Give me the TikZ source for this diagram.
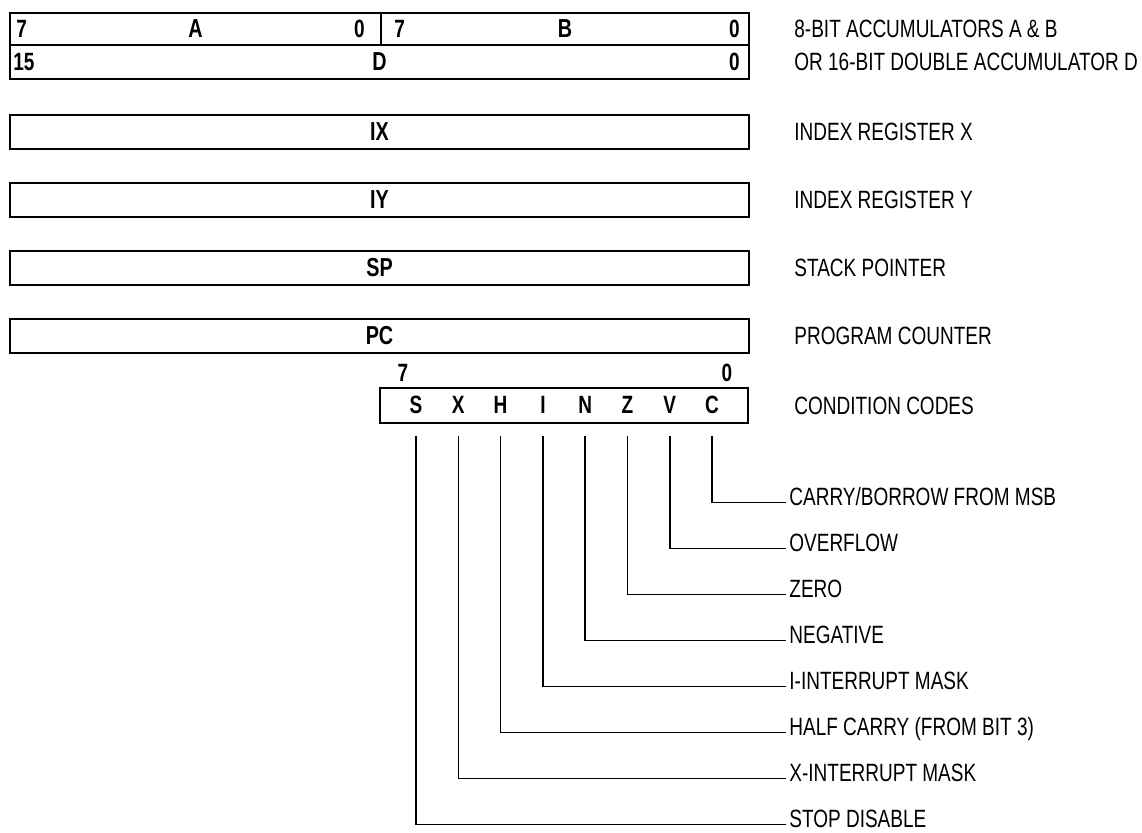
\documentclass[tikz,border=0pt]{standalone}
\usepackage{fontspec}
\setmainfont{Liberation Sans}[FakeStretch=0.76]
\usepackage{tikz}
\usetikzlibrary{positioning}

\begin{document}
\begin{tikzpicture}[
    x=0.5pt, y=-0.5pt,
    reg/.style={draw=black, line width=1pt, inner sep=0pt, anchor=north west,
        minimum width=369.5pt, minimum height=17pt, font=\fontsize{13}{13}\selectfont\bfseries},
    bitno/.style={inner sep=0pt, font=\fontsize{12.5}{13}\selectfont\bfseries},
    flag/.style={inner sep=0pt, text height=8.5pt, text depth=0pt, font=\fontsize{12.5}{13}\selectfont\bfseries},
    desc/.style={inner sep=1.5pt, font=\fontsize{12.5}{13}\selectfont},
    wire/.style={line width=0.8pt}
]
    \useasboundingbox (0,0) rectangle (1142,833);

    % accumulators
    \node[reg, minimum width=185.5pt, minimum height=16pt] (A) at (9,12) {A};
    \node[reg, minimum width=184pt, minimum height=16pt] (B) at (380,12) {B};
    \node[reg] (D) at (9,44) {D};
    \node[bitno, anchor=west] (a7) at ([xshift=3.5pt]A.west) {7};
    \node[bitno, anchor=east] (a0) at ([xshift=-8.5pt]A.east) {0};
    \node[bitno, anchor=west] (b7) at ([xshift=7pt]B.west) {7};
    \node[bitno, anchor=east] (b0) at ([xshift=-5pt]B.east) {0};
    \node[bitno, anchor=west] (d15) at ([xshift=2pt]D.west) {15};
    \node[bitno, anchor=east] (d0) at ([xshift=-5pt]D.east) {0};

    % 16-bit registers
    \node[reg] (IX) at (9,114) {IX};
    \node[reg] (IY) at (9,182) {IY};
    \node[reg] (SP) at (9,250) {SP};
    \node[reg] (PC) at (9,318) {PC};

    % condition code register
    \node[reg, minimum width=184pt, minimum height=17.5pt] (ccr) at (379,387) {};
    \node[bitno] (c7) at (403,373) {7};
    \node[bitno] (c0) at (727,373) {0};
    \foreach \f [count=\i from 0] in {S,X,H,I,N,Z,V,C}
        \node[flag] (f\f) at (416+42.3*\i,405) {\f};

    % register names
    \node[desc, right=20.5pt of B] (Blbl) {8-BIT ACCUMULATORS A \& B};
    \node[desc, right=20.5pt of D] (Dlbl) {OR 16-BIT DOUBLE ACCUMULATOR D};
    \node[desc, right=20.5pt of IX] (IXlbl) {INDEX REGISTER X};
    \node[desc, right=20.5pt of IY] (IYlbl) {INDEX REGISTER Y};
    \node[desc, right=20.5pt of SP] (SPlbl) {STACK POINTER};
    \node[desc, right=20.5pt of PC] (PClbl) {PROGRAM COUNTER};
    \node[desc, right=21pt of ccr] (ccrlbl) {CONDITION CODES};

    % flag meanings
    \foreach \f/\txt [count=\k from 0] in {C/{CARRY/BORROW FROM MSB}, V/OVERFLOW, Z/ZERO,
            N/NEGATIVE, I/I-INTERRUPT MASK, H/HALF CARRY (FROM BIT 3),
            X/X-INTERRUPT MASK, S/STOP DISABLE} {
        \node[desc, anchor=base west] (l\f) at (786,506+46*\k) {\txt};
        \draw[wire] ([yshift=-11pt]f\f.south) |- ([yshift=1.8pt]l\f.base west);
    }
\end{tikzpicture}
\end{document}
